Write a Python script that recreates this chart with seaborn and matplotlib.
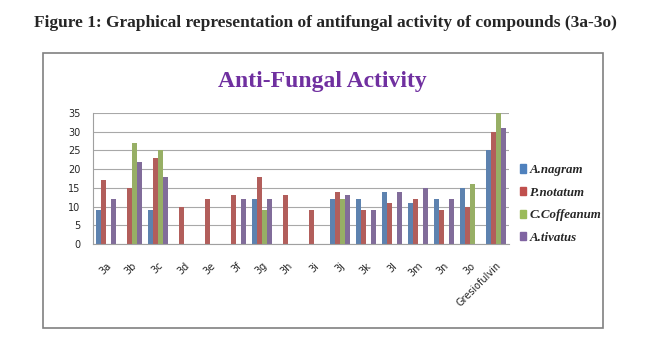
import pandas as pd
import seaborn as sns
import matplotlib.pyplot as plt
from matplotlib.patches import Rectangle

# values
compounds = ['3a', '3b', '3c', '3d', '3e', '3f', '3g', '3h', '3i', '3j', '3k',
             '3l', '3m', '3n', '3o', 'Gresiofulvin']
a_nagram = [9, 0, 9, 0, 0, 0, 12, 0, 0, 12, 12, 14, 11, 12, 15, 25]
p_notatum = [17, 15, 23, 10, 12, 13, 18, 13, 9, 14, 9, 11, 12, 9, 10, 30]
c_coffeanum = [0, 27, 25, 0, 0, 0, 9, 0, 0, 12, 0, 0, 0, 0, 16, 35]
a_tivatus = [12, 22, 18, 0, 0, 12, 12, 0, 0, 13, 9, 14, 15, 12, 0, 31]
series = ['A.nagram', 'P.notatum', 'C.Coffeanum', 'A.tivatus']
colors = ['#4F81BD', '#C0504D', '#9BBB59', '#8064A2']

df = pd.DataFrame({'Compound': compounds, series[0]: a_nagram, series[1]: p_notatum,
                   series[2]: c_coffeanum, series[3]: a_tivatus})
long = df.melt(id_vars='Compound', var_name='Strain', value_name='Value')

sns.set_style('white')
plt.rcParams['font.family'] = ['DejaVu Sans']

fig = plt.figure(figsize=(6.45, 3.51), dpi=100)
ax = fig.add_axes([0.144, 0.305, 0.645, 0.373])

sns.barplot(data=long, x='Compound', y='Value', hue='Strain', palette=colors,
            width=0.75, ax=ax, legend=False, edgecolor='none')

ax.set_ylim(0, 35)
ax.set_yticks(range(0, 36, 5))
ax.set_xlim(-0.5, len(compounds) - 0.5)
ax.yaxis.grid(True, color='#A8A8A8', linewidth=0.8)
ax.set_axisbelow(True)
for side in ['top', 'right']:
    ax.spines[side].set_visible(False)
ax.spines['left'].set_color('#A0A0A0')
ax.spines['bottom'].set_color('#A0A0A0')
ax.set_xlabel('')
ax.set_ylabel('')
ax.tick_params(axis='y', labelsize=7, length=0, pad=9)
ax.tick_params(axis='x', labelsize=7, length=0, pad=12)
plt.setp(ax.get_xticklabels(), rotation=45, ha='right', rotation_mode='anchor')

# legend
handles = [Rectangle((0, 0), 1, 1, color=c) for c in colors]
fig.legend(handles, series, loc='center left', bbox_to_anchor=(0.806, 0.419),
           frameon=False, borderpad=0, borderaxespad=0, handlelength=0.5,
           handleheight=0.6, handletextpad=0.25, labelspacing=0.82,
           prop={'family': 'Liberation Serif', 'style': 'italic', 'weight': 'bold', 'size': 9.3})

# chart border and titles
fig.patches.append(Rectangle((0.0667, 0.0655), 0.8683, 0.7835, transform=fig.transFigure,
                             fill=False, edgecolor='#808080', linewidth=1.2))
fig.text(0.50, 0.769, 'Anti-Fungal Activity', ha='center', va='center',
         color='#7030A0', fontsize=17, fontweight='bold', family='Liberation Serif')
fig.text(0.504, 0.934, 'Figure 1: Graphical representation of antifungal activity of compounds (3a-3o)',
         ha='center', va='center', fontsize=12.5, fontweight='bold', family='Liberation Serif')

fig.savefig('out.png', dpi=100)
